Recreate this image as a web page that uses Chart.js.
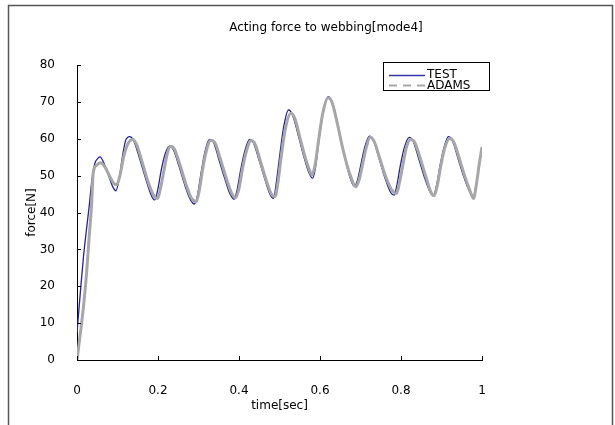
<!DOCTYPE html>
<html>
<head>
<meta charset="utf-8">
<script src="https://cdn.jsdelivr.net/npm/chart.js@4/dist/chart.umd.min.js"></script>
<style>
  html, body { margin: 0; padding: 0; background: #ffffff; }
  #c { display: block; }
</style>
</head>
<body>
<canvas id="c" width="615" height="425"></canvas>
<script>
// Measured webbing force, test rig
const timeTest = [0, 0.008, 0.016, 0.024, 0.030, 0.037, 0.044, 0.050, 0.057, 0.066, 0.078, 0.089, 0.096,
  0.104, 0.112, 0.120, 0.130, 0.140, 0.155, 0.170, 0.184, 0.192, 0.200, 0.208, 0.218, 0.228, 0.238, 0.252,
  0.266, 0.280, 0.290, 0.298, 0.306, 0.316, 0.327, 0.336, 0.350, 0.364, 0.378, 0.388, 0.396, 0.404, 0.414,
  0.426, 0.436, 0.450, 0.464, 0.477, 0.485, 0.492, 0.500, 0.510, 0.522, 0.532, 0.545, 0.558, 0.572, 0.582,
  0.590, 0.598, 0.608, 0.620, 0.630, 0.643, 0.656, 0.670, 0.684, 0.692, 0.700, 0.710, 0.722, 0.732, 0.745,
  0.760, 0.774, 0.783, 0.790, 0.798, 0.808, 0.820, 0.830, 0.844, 0.858, 0.872, 0.880, 0.888, 0.896, 0.906,
  0.917, 0.927, 0.940, 0.954, 0.968, 0.979, 0.986, 0.993, 1.000];
const forceTest = [7.5, 18, 28, 36, 41.6, 49, 53.3, 54.5, 55.1, 53.5, 50, 46.8, 45.9,
  49, 55, 59.5, 60.6, 59.5, 54.5, 49, 44.5, 43.4, 46.5, 51.5, 56, 58, 57, 52.5,
  47.5, 43.5, 42.3, 45, 50.5, 56.5, 59.8, 59.3, 54.5, 49.5, 45, 43.6, 46.5, 51.5, 56.5,
  59.8, 58.8, 54, 49, 44.8, 43.8, 48, 55, 63, 67.8, 66.5, 61.5, 56, 51, 49.3,
  53, 60, 67, 71.4, 70, 64.5, 57.5, 51, 47.2, 48.5, 52.5, 57.5, 60.7, 59.5, 55,
  49.5, 45.5, 44.7, 47.5, 52.5, 57.5, 60.4, 59.3, 54.5, 49.5, 45.5, 44.5, 47.5, 52.5, 57.5,
  60.6, 59.5, 55, 50, 46, 44.3, 48, 53, 57.4];

// Simulated webbing force, ADAMS model
const timeAdams = [0, 0.008, 0.016, 0.024, 0.030, 0.036, 0.040, 0.048, 0.058, 0.068, 0.080, 0.090, 0.098,
  0.106, 0.115, 0.125, 0.137, 0.147, 0.160, 0.175, 0.190, 0.199, 0.206, 0.214, 0.222, 0.230, 0.240, 0.254,
  0.268, 0.282, 0.294, 0.302, 0.310, 0.319, 0.330, 0.340, 0.354, 0.368, 0.382, 0.392, 0.400, 0.408, 0.418,
  0.430, 0.440, 0.454, 0.468, 0.480, 0.489, 0.496, 0.504, 0.515, 0.528, 0.538, 0.550, 0.562, 0.574, 0.580,
  0.588, 0.597, 0.607, 0.620, 0.630, 0.643, 0.657, 0.672, 0.689, 0.697, 0.705, 0.714, 0.724, 0.734, 0.748,
  0.763, 0.778, 0.789, 0.796, 0.804, 0.813, 0.824, 0.834, 0.848, 0.862, 0.874, 0.882, 0.890, 0.898, 0.908,
  0.920, 0.930, 0.943, 0.957, 0.970, 0.979, 0.986, 0.993, 1.000];
const forceAdams = [0, 7, 14.5, 24, 33.4, 42, 50.7, 52.8, 53.5, 52.5, 50, 48, 47.5,
  50, 55, 58.5, 59.8, 58.5, 54, 48.5, 44.5, 43.8, 46.5, 51, 55.5, 58, 57.3, 53,
  48, 44, 42.9, 46, 51.5, 56.5, 59.5, 59, 54.5, 49.5, 45.2, 44, 46.5, 51.5, 56.5,
  59.5, 58.5, 53.5, 48.5, 45, 44.3, 48, 55, 63, 66.9, 65.5, 60.5, 55.5, 51.5, 50.2,
  53, 60, 67, 71.1, 69.8, 64, 57, 51, 47, 49, 53, 57.5, 60.4, 59.2, 54.5,
  49.5, 46, 45.2, 48, 52.5, 57.5, 59.8, 59, 54.5, 49.5, 45.5, 44.6, 47.5, 52.5, 57.5,
  60.1, 59.2, 55, 50, 46, 43.8, 47.5, 53, 57.8];

const xTickStep = 0.2;
const yTickStep = 10;
const chartTitle = 'Acting force to webbing[mode4]';
const xTitle = 'time[sec]';
const yTitle = 'force[N]';
const seriesNames = ['TEST', 'ADAMS'];

const FONT = 'DejaVu Sans';
const testColor = '#23239b';
const adamsColor = '#a7a7a7';

const toPoints = (xs, ys) => xs.map((x, i) => ({ x: x, y: ys[i] }));

// Frame, title, inward tick marks and the boxed legend
const decorations = {
  id: 'decorations',
  beforeDraw(chart) {
    const ctx = chart.ctx;
    ctx.save();
    ctx.fillStyle = '#ffffff';
    ctx.fillRect(0, 0, chart.width, chart.height);
    ctx.restore();
  },
  afterDraw(chart) {
    const ctx = chart.ctx;
    const area = chart.chartArea;
    ctx.save();

    // outer frame, open at the bottom edge
    ctx.strokeStyle = '#555555';
    ctx.lineWidth = 1.5;
    ctx.strokeRect(8.5, 5.5, 604, 440);

    // title
    ctx.fillStyle = '#000000';
    ctx.font = '12px "' + FONT + '"';
    ctx.textAlign = 'center';
    ctx.textBaseline = 'middle';
    ctx.fillText(chartTitle, 326, 28);

    // tick marks pointing into the plot
    ctx.strokeStyle = '#000000';
    ctx.lineWidth = 1;
    const xs = chart.scales.x, ys = chart.scales.y;
    xs.ticks.forEach(t => {
      const px = Math.round(xs.getPixelForValue(t.value)) + 0.5;
      ctx.beginPath();
      ctx.moveTo(px, area.bottom);
      ctx.lineTo(px, area.bottom - 4);
      ctx.stroke();
    });
    ys.ticks.forEach(t => {
      const py = Math.round(ys.getPixelForValue(t.value)) + 0.5;
      ctx.beginPath();
      ctx.moveTo(area.left, py);
      ctx.lineTo(area.left + 4, py);
      ctx.stroke();
    });

    // legend
    const lx = 383, ly = 62, lw = 106, lh = 28;
    ctx.fillStyle = '#ffffff';
    ctx.fillRect(lx, ly, lw, lh);
    ctx.strokeStyle = '#000000';
    ctx.lineWidth = 1;
    ctx.strokeRect(lx + 0.5, ly + 0.5, lw, lh);

    ctx.strokeStyle = '#3535aa';
    ctx.lineWidth = 1.5;
    ctx.beginPath();
    ctx.moveTo(389, 75.5);
    ctx.lineTo(425, 75.5);
    ctx.stroke();

    ctx.strokeStyle = adamsColor;
    ctx.lineWidth = 2;
    ctx.setLineDash([8, 6]);
    ctx.beginPath();
    ctx.moveTo(389, 85.5);
    ctx.lineTo(425, 85.5);
    ctx.stroke();
    ctx.setLineDash([]);

    ctx.fillStyle = '#000000';
    ctx.font = '12px "' + FONT + '"';
    ctx.textAlign = 'left';
    ctx.textBaseline = 'middle';
    ctx.fillText(seriesNames[0], 427, 75);
    ctx.fillText(seriesNames[1], 427, 86);

    ctx.restore();
  }
};

new Chart(document.getElementById('c'), {
  type: 'line',
  data: {
    datasets: [
      {
        label: seriesNames[0],
        data: toPoints(timeTest, forceTest),
        borderColor: testColor,
        borderWidth: 1.3,
        pointRadius: 0,
        fill: false,
        cubicInterpolationMode: 'monotone',
        order: 1
      },
      {
        label: seriesNames[1],
        data: toPoints(timeAdams, forceAdams),
        borderColor: adamsColor,
        borderWidth: 3,
        pointRadius: 0,
        fill: false,
        cubicInterpolationMode: 'monotone',
        order: 0
      }
    ]
  },
  options: {
    responsive: false,
    animation: false,
    events: [],
    layout: { padding: { left: 0, top: 65, right: 133, bottom: 0 } },
    plugins: {
      legend: { display: false },
      title: { display: false },
      tooltip: { enabled: false }
    },
    scales: {
      x: {
        type: 'linear',
        min: 0,
        max: 1,
        grid: { display: false },
        border: { display: true, color: '#000000', width: 1 },
        ticks: {
          stepSize: xTickStep,
          padding: 16,
          color: '#000000',
          font: { family: FONT, size: 12 },
          maxRotation: 0,
          callback: v => String(Math.round(v * 10) / 10)
        },
        title: {
          display: true,
          text: xTitle,
          color: '#000000',
          font: { family: FONT, size: 12 },
          padding: { top: 0, bottom: 12 }
        },
        afterFit(scale) { scale.height = 65; }
      },
      y: {
        min: 0,
        max: 80,
        grid: { display: false },
        border: { display: true, color: '#000000', width: 1 },
        ticks: {
          stepSize: yTickStep,
          padding: 14,
          color: '#000000',
          font: { family: FONT, size: 12 }
        },
        title: {
          display: true,
          text: yTitle,
          color: '#000000',
          font: { family: FONT, size: 12 },
          padding: { top: 25, bottom: 0 }
        },
        afterFit(scale) { scale.width = 77; }
      }
    }
  },
  plugins: [decorations]
});
</script>
</body>
</html>
